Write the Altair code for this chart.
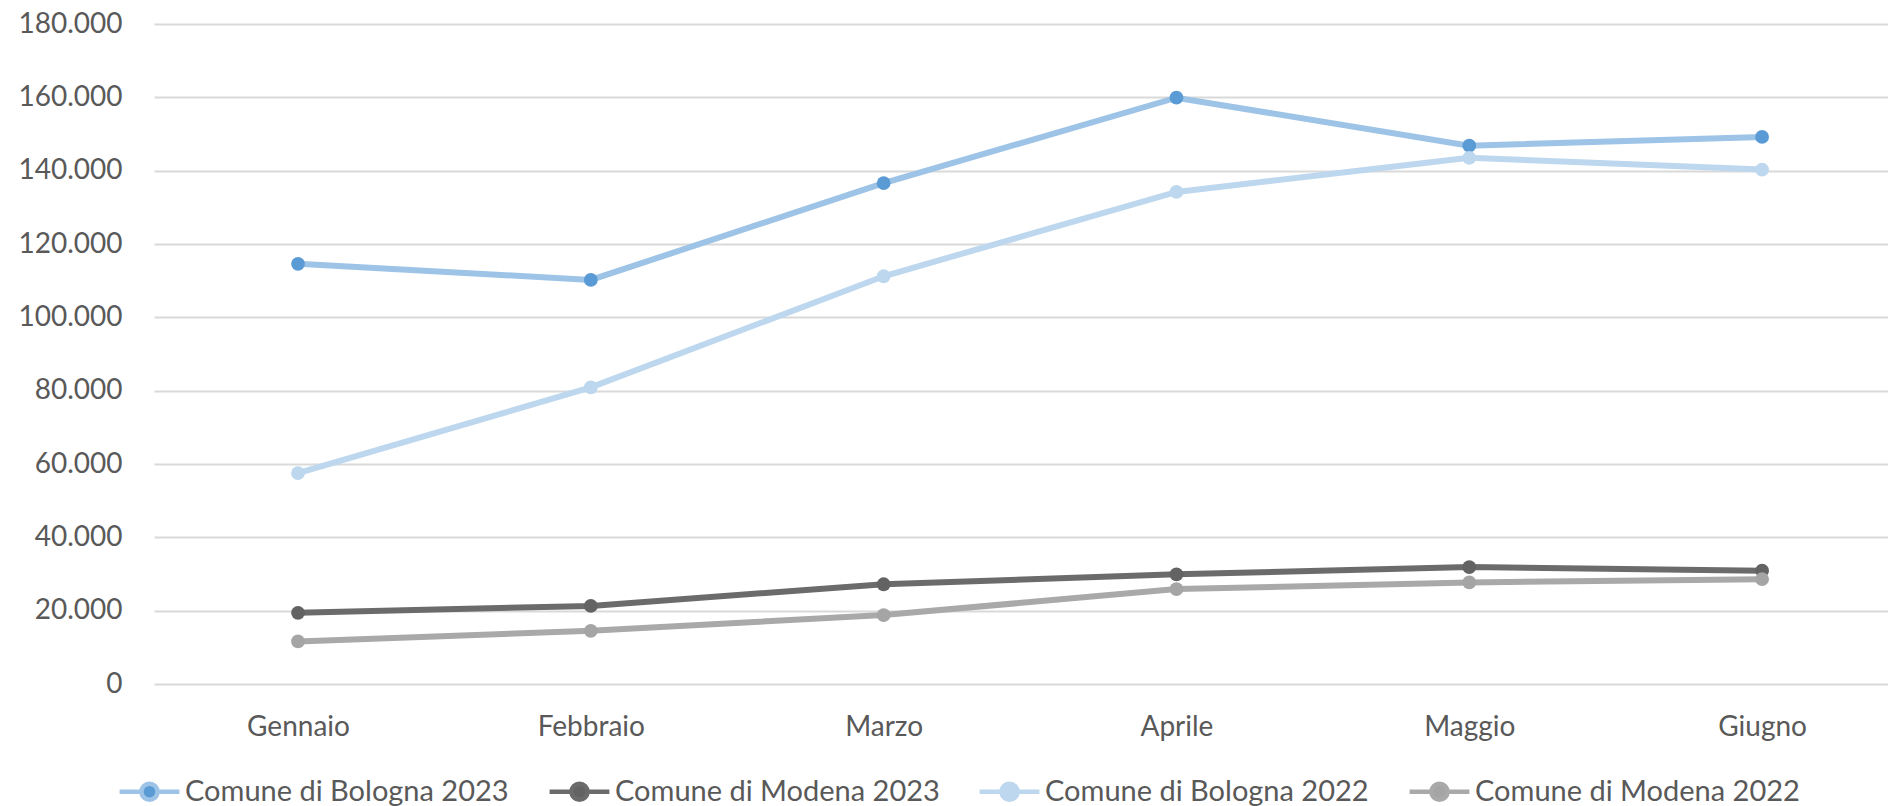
import altair as alt
import pandas as pd

months = ["Gennaio", "Febbraio", "Marzo", "Aprile", "Maggio", "Giugno"]
series = ["Comune di Bologna 2023", "Comune di Modena 2023",
          "Comune di Bologna 2022", "Comune di Modena 2022"]
bologna_2023 = [114600, 110200, 136600, 159900, 146800, 149200]
modena_2023 = [19400, 21300, 27200, 29900, 31900, 30900]
bologna_2022 = [57500, 80900, 111200, 134200, 143500, 140300]
modena_2022 = [11600, 14500, 18800, 25900, 27700, 28600]
y_ticks = [0, 20000, 40000, 60000, 80000, 100000, 120000, 140000, 160000, 180000]

line_colors = ["#9DC3E6", "#6B6B6B", "#BDD7EE", "#A9A9A9"]
marker_colors = ["#5B9BD5", "#636363", "#BDD7EE", "#A5A5A5"]

rows = []
for name, vals in zip(series, [bologna_2023, modena_2023, bologna_2022, modena_2022]):
    for i, (m, v) in enumerate(zip(months, vals)):
        rows.append({"idx": i, "month": m, "series": name, "value": v})
df = pd.DataFrame(rows)

FONT = "Lato"
TXT = "#595959"

month_arr = "[" + ",".join("'%s'" % m for m in months) + "]"
x_enc = alt.X("idx:Q",
              scale=alt.Scale(domain=[-0.4918, 5.43], nice=False, zero=False),
              axis=alt.Axis(title=None, values=list(range(len(months))),
                            labelExpr=month_arr + "[datum.value]",
                            labelFont=FONT, labelFontSize=28, labelColor=TXT,
                            labelPadding=29, ticks=False, domain=False, grid=False,
                            labelAngle=0, labelFlush=False, labelOverlap=False))
y_enc = alt.Y("value:Q", scale=alt.Scale(domain=[0, 180000], nice=False),
              axis=alt.Axis(title=None, values=y_ticks, labelFont=FONT, labelFontSize=28,
                            labelColor=TXT, labelPadding=32, ticks=False, domain=False,
                            gridColor="#D9D9D9", gridWidth=2,
                            labelExpr="replace(format(datum.value, ','), ',', '.')"))

sym = "M-2.3,0H-0.62M0.62,0H2.3M-0.62,0A0.62,0.62,0,1,1,0.62,0A0.62,0.62,0,1,1,-0.62,0Z"
leg = dict(title=None, orient="none", legendX=-20, legendY=752, direction="horizontal",
           columns=4, gridAlign="all", columnPadding=30, symbolType=sym, symbolSize=676,
           symbolStrokeWidth=4.5, labelFont=FONT, labelFontSize=29, labelColor=TXT,
           labelOffset=20, labelLimit=600, padding=0)

lines = alt.Chart(df).mark_line(strokeWidth=6).encode(
    x=x_enc, y=y_enc,
    stroke=alt.Stroke("series:N", sort=series,
                      scale=alt.Scale(domain=series, range=line_colors),
                      legend=alt.Legend(**leg)),
)
points = alt.Chart(df).mark_point(filled=True, size=190, opacity=1).encode(
    x=x_enc, y=y_enc,
    fill=alt.Fill("series:N", sort=series,
                  scale=alt.Scale(domain=series, range=marker_colors),
                  legend=alt.Legend(**leg)),
)

chart = alt.layer(lines, points).properties(
    width=1734, height=660,
    autosize=alt.AutoSizeParams(type="none"),
    padding={"left": 154, "top": 24, "right": 0, "bottom": 122},
    background="white",
).configure_view(stroke=None)

chart.save("out.html", embed_options={"renderer": "svg", "actions": False})
